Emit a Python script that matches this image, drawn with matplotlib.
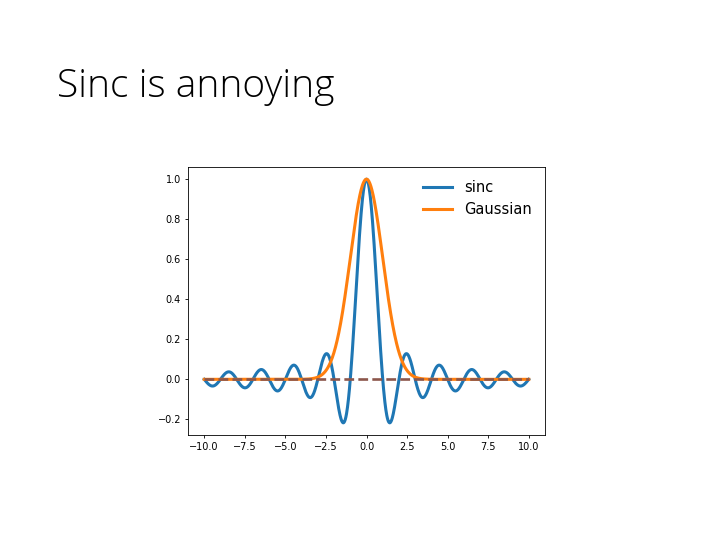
import numpy as np
import matplotlib.pyplot as plt

# x grid and curve parameters
x_min, x_max, n_pts = -10.0, 10.0, 1000
gauss_sigma = 1.0
x_ticks = [-10.0, -7.5, -5.0, -2.5, 0.0, 2.5, 5.0, 7.5, 10.0]
y_ticks = [-0.2, 0.0, 0.2, 0.4, 0.6, 0.8, 1.0]
labels = ["sinc", "Gaussian"]
title = "Sinc is annoying"

x = np.linspace(x_min, x_max, n_pts)
sinc_y = np.sinc(x)
gauss_y = np.exp(-x**2 / (2 * gauss_sigma**2))
zero_y = np.zeros_like(x)

fig = plt.figure(figsize=(7.2, 5.4), dpi=100)
fig.text(57/720, 1 - 97/540, title, fontsize=28, family="Open Sans",
         fontweight="light", color="black", va="baseline", ha="left")

ax = fig.add_axes([188/720, 1 - 435/540, 357/720, 268/540])
ax.plot(x, sinc_y, color="C0", lw=2.2, label=labels[0])
ax.plot(x, gauss_y, color="C1", lw=2.2, label=labels[1])
ax.plot(x, zero_y, color="#8c564b", lw=1.9, ls="--")

ax.set_xticks(x_ticks)
ax.set_yticks(y_ticks)
ax.tick_params(labelsize=7, length=2.5, width=0.6, pad=2.5)
for s in ax.spines.values():
    s.set_linewidth(0.6)
ax.legend(frameon=False, fontsize=10.5, loc="upper right", handlelength=2.0)

fig.savefig("out.png", dpi=100)
